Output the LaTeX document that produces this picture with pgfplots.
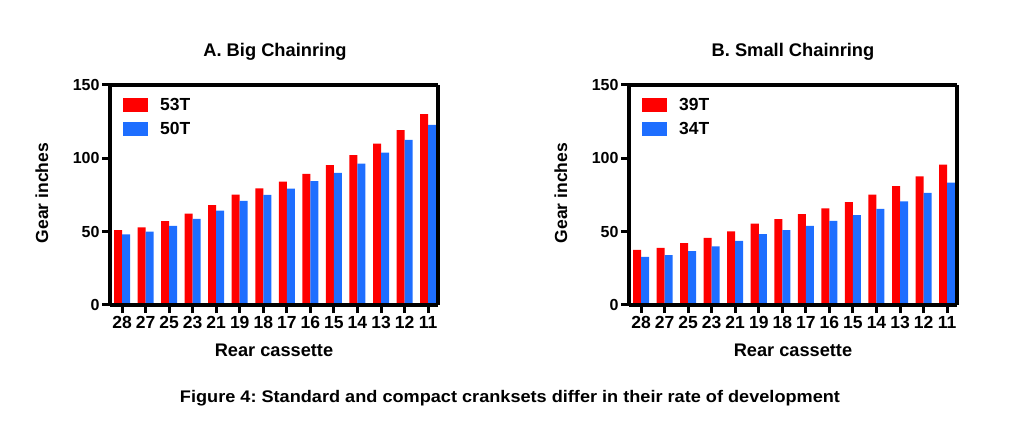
\documentclass[border=0pt]{standalone}
\usepackage{fontspec}
\setmainfont{Liberation Sans}
\usepackage{graphicx}
\usepackage{pgfplots}
\pgfplotsset{compat=1.18}
\frenchspacing
\definecolor{barred}{RGB}{255,0,0}
\definecolor{barblue}{RGB}{30,110,255}
\pgfplotsset{gearstyle/.style={
  scale only axis, width=328pt, height=220pt,
  xmin=-0.51, xmax=13.42, ymin=0, ymax=150,
  ytick={0,50,100,150}, xtick={0,...,13},
  xticklabels={28,27,25,23,21,19,18,17,16,15,14,13,12,11},
  tick align=outside, tick pos=left,
  major tick length=8pt,
  axis on top,
  separate axis lines,
  axis line style={line width=3.3pt, black},
  every outer x axis line/.append style={line width=3.3pt},
  every outer y axis line/.append style={line width=3.3pt},
  every tick/.style={line width=3pt, black},
  /pgf/number format/assume math mode=true,
  xticklabel style={font=\fontsize{17.5}{20}\selectfont\bfseries},
  yticklabel style={font=\fontsize{16}{18}\selectfont\bfseries, xshift=1pt},
  ybar=0pt, bar width=0.34,
  legend style={at={(0,1)}, anchor=north west, draw=none, fill=none,
    font=\fontsize{17.5}{20}\selectfont\bfseries, xshift=10pt, yshift=-9pt,
    row sep=6pt},
  legend image code/.code={\fill[#1] (0pt,-7pt) rectangle (25pt,7pt); \path (35pt,0pt);},
  legend cell align=left,
}}
\begin{document}
\begin{tikzpicture}
\path[use as bounding box] (0pt,0pt) rectangle (1024pt,444pt);
\begin{axis}[gearstyle, at={(110pt,139pt)}, anchor=south west]
\addplot[fill=barred, draw=none] coordinates {(0,51.11) (1,53.00) (2,57.24) (3,62.22) (4,68.14) (5,75.32) (6,79.50) (7,84.18) (8,89.44) (9,95.40) (10,102.21) (11,110.08) (12,119.25) (13,130.09)};
\addplot[fill=barblue, draw=none] coordinates {(0,48.21) (1,50.00) (2,54.00) (3,58.70) (4,64.29) (5,71.05) (6,75.00) (7,79.41) (8,84.38) (9,90.00) (10,96.43) (11,103.85) (12,112.50) (13,122.73)};
\legend{53T,50T}
\end{axis}
\begin{axis}[gearstyle, at={(629pt,139pt)}, anchor=south west]
\addplot[fill=barred, draw=none] coordinates {(0,37.61) (1,39.00) (2,42.12) (3,45.78) (4,50.14) (5,55.42) (6,58.50) (7,61.94) (8,65.81) (9,70.20) (10,75.21) (11,81.00) (12,87.75) (13,95.73)};
\addplot[fill=barblue, draw=none] coordinates {(0,32.79) (1,34.00) (2,36.72) (3,39.91) (4,43.71) (5,48.32) (6,51.00) (7,54.00) (8,57.38) (9,61.20) (10,65.57) (11,70.62) (12,76.50) (13,83.45)};
\legend{39T,34T}
\end{axis}
\node[anchor=base, font=\fontsize{18.3}{22}\selectfont\bfseries] at (275pt,387pt) {A. Big Chainring};
\node[anchor=base, font=\fontsize{18.3}{22}\selectfont\bfseries] at (793pt,387pt) {B. Small Chainring};
\node[anchor=base, font=\fontsize{18.2}{22}\selectfont\bfseries] at (274pt,87pt) {Rear cassette};
\node[anchor=base, font=\fontsize{18.2}{22}\selectfont\bfseries] at (793pt,87pt) {Rear cassette};
\node[anchor=base, rotate=90, font=\fontsize{17.5}{20}\selectfont\bfseries] at (48pt,251pt) {Gear inches};
\node[anchor=base, rotate=90, font=\fontsize{17.5}{20}\selectfont\bfseries] at (567pt,251pt) {Gear inches};
\node[anchor=base, inner sep=0pt] at (510pt,41pt) {\resizebox{660pt}{\height}{\fontsize{16.8}{20}\selectfont\bfseries Figure 4: Standard and compact cranksets differ in their rate of development}};
\end{tikzpicture}
\end{document}
